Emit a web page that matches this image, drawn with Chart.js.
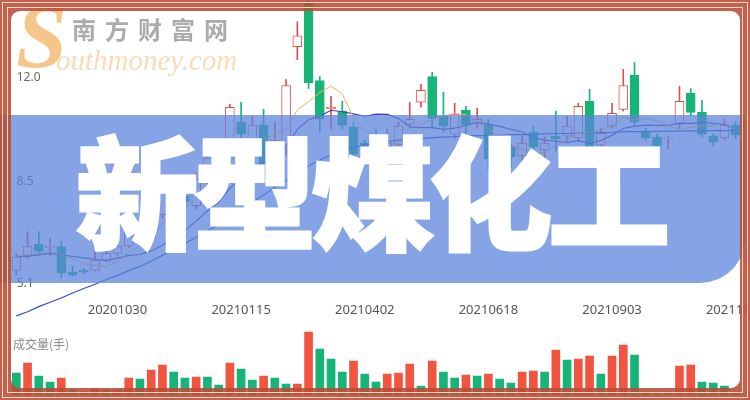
<!DOCTYPE html>
<html lang="zh">
<head>
<meta charset="UTF-8">
<title>新型煤化工</title>
<script src="https://cdn.jsdelivr.net/npm/chart.js"></script>
<style>
  html, body { margin: 0; padding: 0; background: #fff; }
  .wrap { position: relative; width: 750px; height: 400px; overflow: hidden; background: #fff; }
  #priceChart { position: absolute; left: 0; top: 0; }
  #volChart { position: absolute; left: 0; top: 320px; }
  .vol-title { position: absolute; left: 13px; top: 337px; font: 12px/1.2 "Noto Sans CJK SC", sans-serif; color: #8a8a8a; }
  .banner { position: absolute; left: 0; top: 115px; width: 745px; height: 168px;
            background: rgba(92,132,220,0.74); border-bottom-right-radius: 45px; }
  .title { position: absolute; left: 76px; top: 126px; white-space: nowrap; color: #fff;
           font: 900 122px/1 "Noto Sans CJK SC", sans-serif; -webkit-text-stroke: 3px #fff; letter-spacing: -4px; }
  .wm-s { position: absolute; left: 16px; top: -10px; font: italic bold 92px/1 "Liberation Serif", serif; color: #f6c58a; }
  .wm-cn { position: absolute; left: 72px; top: 17px; font: 700 24px/1 "Noto Sans CJK SC", sans-serif;
           letter-spacing: 9px; color: rgba(120,120,120,0.62); }
  .wm-en { position: absolute; left: 56px; top: 46px; font: italic 29px/1 "Liberation Serif", serif; color: #f8dcb8; }
  .frame { position: absolute; left: 0; top: 0; width: 750px; height: 400px; overflow: hidden; pointer-events: none; }
  .frame .hole { position: absolute; left: 11px; top: 11px; right: 10px; bottom: 12px; border-radius: 9px;
                 box-shadow: 0 0 0 40px rgba(185,75,55,0.88); }
  .frame .l1 { position: absolute; left: 2px; top: 2px; right: 2px; bottom: 2px; border: 1.5px solid rgba(250,226,196,0.95); }
  .frame .l2 { position: absolute; left: 7px; top: 7px; right: 7px; bottom: 7px; border: 1.5px solid rgba(250,226,196,0.95); }
</style>
</head>
<body>
<div class="wrap">
  <canvas id="priceChart" width="750" height="320"></canvas>
  <canvas id="volChart" width="750" height="80"></canvas>
  <div class="vol-title">成交量(手)</div>
  <div class="wm-s">S</div>
  <div class="wm-cn">南方财富网</div>
  <div class="wm-en">outhmoney.com</div>
  <div class="banner"></div>
  <div class="title">新型煤化工</div>
  <div class="frame"><div class="hole"></div><div class="l1"></div><div class="l2"></div></div>
</div>

<script>
// 周K线日期
const dates = [
  '20200828','20200904','20200911','20200918','20200925','20200930','20201009','20201016','20201023','20201030',
  '20201106','20201113','20201120','20201127','20201204','20201211','20201218','20201225','20201231','20210108',
  '20210115','20210122','20210129','20210205','20210210','20210219','20210226','20210305','20210312','20210319',
  '20210326','20210402','20210409','20210416','20210423','20210430','20210507','20210514','20210521','20210528',
  '20210604','20210611','20210618','20210625','20210702','20210709','20210716','20210723','20210730','20210806',
  '20210813','20210820','20210827','20210903','20210910','20210917','20210924','20210930','20211008','20211015',
  '20211022','20211029','20211105','20211112','20211119'
];
const shownDates = ['20201030','20210115','20210402','20210618','20210903','20211119'];
const priceTicks = [12.0, 8.5, 5.1];

const open = [5.53,6.03,6.40,6.30,6.33,5.47,5.53,5.53,5.87,6.10, 6.35,6.90,6.60,7.40,8.20,8.03,7.70,8.60,9.30,9.70,
  10.50,9.83,10.40,9.30,9.60,13.03,14.50,11.90,10.95,10.87, 10.33,9.80,9.85,9.67,9.73,10.43,11.17,12.03,10.70,10.10,
  10.90,10.43,10.43,9.30,9.67,9.37,10.17,9.57,10.03,10.03, 9.97,11.20,9.73,10.37,10.93,12.07,10.20,10.00,9.93,10.43,
  11.47,10.83,10.03,9.97,10.40];
const close = [5.97,6.33,6.17,6.33,5.43,5.37,5.47,5.87,6.10,6.35, 6.90,6.60,7.40,8.20,7.90,7.83,8.60,9.30,9.00,11.00,
  10.10,10.40,9.10,9.90,11.73,13.40,11.83,10.60,11.00,10.40, 9.43,9.60,9.70,9.80,10.37,10.60,11.57,10.63,10.37,10.77,
  10.40,10.60,9.27,9.00,9.33,9.80,9.67,9.80,9.93,10.37, 11.03,9.67,10.13,10.80,11.73,10.50,9.97,9.70,9.95,11.20,
  10.83,10.10,9.83,10.40,10.07];
const high = [6.10,6.83,6.83,6.60,6.50,5.67,5.60,6.17,6.27,6.50, 7.10,7.10,7.60,8.40,8.50,8.30,8.80,9.50,9.60,11.10,
  11.17,10.70,10.93,10.50,11.93,13.87,15.20,12.03,11.37,11.20, 10.50,9.90,10.27,10.27,10.50,11.17,11.77,12.17,11.50,11.13,
  11.03,10.97,10.60,9.50,9.80,10.03,10.37,10.00,10.87,10.70, 11.13,11.60,10.30,11.13,12.27,12.50,10.30,10.10,10.03,11.70,
  11.63,11.23,10.10,10.60,10.50];
const low = [5.37,5.93,6.03,6.03,5.27,5.33,5.40,5.50,5.83,6.00, 6.30,6.50,6.50,7.30,7.70,7.60,7.60,8.40,8.80,9.50,
  9.70,9.70,8.83,9.20,9.40,12.60,11.63,10.17,10.27,10.27, 9.20,9.40,9.50,9.50,9.60,10.30,11.00,10.33,10.17,9.95,
  9.93,10.30,8.87,8.80,9.00,9.17,9.60,9.27,9.53,9.87, 9.90,9.60,9.53,10.30,10.87,10.40,9.90,9.60,9.60,10.30,
  10.70,10.00,9.70,9.90,9.95];

// 均线
const ma5 = [6.00,6.05,6.10,6.15,6.05,5.93,5.75,5.69,5.65,5.83, 6.14,6.36,6.67,7.09,7.40,7.59,7.99,8.37,8.53,9.15,
  9.60,9.96,9.92,10.10,10.25,10.91,11.19,11.49,11.71,11.45, 10.65,10.21,10.05,9.81,9.80,10.03,10.43,10.59,10.71,10.79,
  10.75,10.55,10.28,10.01,9.72,9.60,9.41,9.52,9.71,9.91, 10.16,10.16,10.23,10.40,10.67,10.57,10.63,10.54,10.37,10.26,
  10.33,10.36,10.38,10.47,10.25];
const ma10 = [6.00,6.00,6.05,6.10,6.05,6.00,5.95,5.90,5.85,5.94, 6.03,6.06,6.18,6.37,6.62,6.87,7.18,7.52,7.81,8.28,
  8.60,8.98,9.15,9.32,9.70,10.26,10.58,10.71,10.90,10.85, 10.78,10.70,10.77,10.76,10.63,10.34,10.32,10.32,10.26,10.30,
  10.39,10.49,10.44,10.36,10.26,10.18,9.98,9.90,9.86,9.82, 9.88,9.79,9.88,10.06,10.29,10.37,10.40,10.39,10.39,10.47,
  10.45,10.50,10.46,10.42,10.26];
const ma60 = [4.00,4.14,4.31,4.46,4.60,4.77,4.92,5.06,5.22,5.36, 5.52,5.66,5.84,6.03,6.24,6.43,6.64,6.86,7.06,7.31,
  7.57,7.82,8.06,8.31,8.54,8.78,9.04,9.23,9.41,9.54, 9.66,9.74,9.81,9.86,9.90,9.93,9.95,9.98,10.00,10.02,
  10.03,10.05,10.05,10.06,10.08,10.08,10.09,10.11,10.12,10.12, 10.13,10.15,10.15,10.16,10.18,10.18,10.18,10.19,10.20,10.20,
  10.21,10.21,10.22,10.22,10.23];

// 成交量 (万手) 与涨跌
const volume = [22,32,19,13,17,5,3,6,5,5, 17,16,25,30,23,17,18,18,10,32,
  26,15,19,17,11,11,63,46,36,23, 34,21,13,21,22,31,9,34,23,17,
  20,19,21,16,12,23,24,23,45,35, 36,39,21,39,50,40,3,3,3,29,
  30,13,12,9,3];
const volUp = [0,1,0,0,1,0,1,1,0,1, 1,0,1,1,0,0,1,0,0,1, 0,0,1,0,0,1,1,0,0,0,
  1,0,0,1,1,1,0,1,0,0, 1,0,1,0,0,1,1,0,1,0, 1,1,0,1,1,0,0,0,1,1, 1,0,0,0,1];

const RED = '#e2504c';
const GREEN = '#17b477';
const isUp = close.map((c, i) => c >= open[i]);

// 去掉刻度标签带来的额外边距, 让K线与参考图对齐
const noPad = (scale) => {
  scale.paddingLeft = 0; scale.paddingRight = 0;
  scale.paddingTop = 0; scale.paddingBottom = 0;
};

new Chart(document.getElementById('priceChart'), {
  type: 'bar',
  data: {
    labels: dates,
    datasets: [
      { type: 'line', label: 'MA5', data: ma5, borderColor: '#f2b25a', borderWidth: 1, pointRadius: 0, order: 1, clip: false },
      { type: 'line', label: 'MA10', data: ma10, borderColor: '#4f3aa8', borderWidth: 1.2, pointRadius: 0, order: 1, clip: false },
      { type: 'line', label: 'MA60', data: ma60, borderColor: '#2a4fd2', borderWidth: 1.2, pointRadius: 0, order: 1, clip: false },
      {
        label: 'K线', order: 2, grouped: false, barThickness: 9, minBarLength: 1,
        data: open.map((o, i) => [o, close[i]]),
        backgroundColor: isUp.map(u => u ? '#ffffff' : GREEN),
        borderColor: isUp.map(u => u ? RED : GREEN),
        borderWidth: 1, borderSkipped: false
      },
      {
        label: '影线', order: 3, grouped: false, barThickness: 1,
        data: low.map((l, i) => [l, high[i]]),
        backgroundColor: isUp.map(u => u ? RED : GREEN),
        borderWidth: 0
      }
    ]
  },
  options: {
    responsive: false,
    animation: false,
    events: [],
    layout: { padding: { left: 10.7, right: 8.7, top: 0, bottom: 0 } },
    plugins: { legend: { display: false }, tooltip: { enabled: false } },
    scales: {
      x: {
        grid: { display: false, drawTicks: false },
        border: { display: false },
        afterFit: noPad,
        ticks: {
          autoSkip: false, maxRotation: 0, padding: 2,
          color: '#555', font: { family: 'Noto Sans', size: 13 },
          callback: (v, i) => shownDates.includes(dates[i]) ? dates[i] : ''
        }
      },
      y: {
        position: 'left', min: 4.52, max: 14.6,
        grid: { display: false, drawTicks: false },
        border: { display: false },
        afterFit: (scale) => { noPad(scale); scale.width = 0; },
        afterBuildTicks: (scale) => { scale.ticks = priceTicks.map(v => ({ value: v })); },
        ticks: {
          mirror: true, padding: 6, color: '#666',
          font: { family: 'Noto Sans', size: 12 },
          callback: (v) => Number(v).toFixed(1)
        }
      }
    }
  }
});

new Chart(document.getElementById('volChart'), {
  type: 'bar',
  data: {
    labels: dates,
    datasets: [{
      label: '成交量', data: volume, barThickness: 8,
      backgroundColor: volUp.map(u => u ? '#f2553f' : '#17b477')
    }]
  },
  options: {
    responsive: false,
    animation: false,
    events: [],
    layout: { padding: { left: 10.7, right: 8.7, top: 5, bottom: 5 } },
    plugins: { legend: { display: false }, tooltip: { enabled: false } },
    scales: {
      x: { display: false },
      y: { display: false, min: 0, max: 70 }
    }
  }
});
</script>
</body>
</html>
